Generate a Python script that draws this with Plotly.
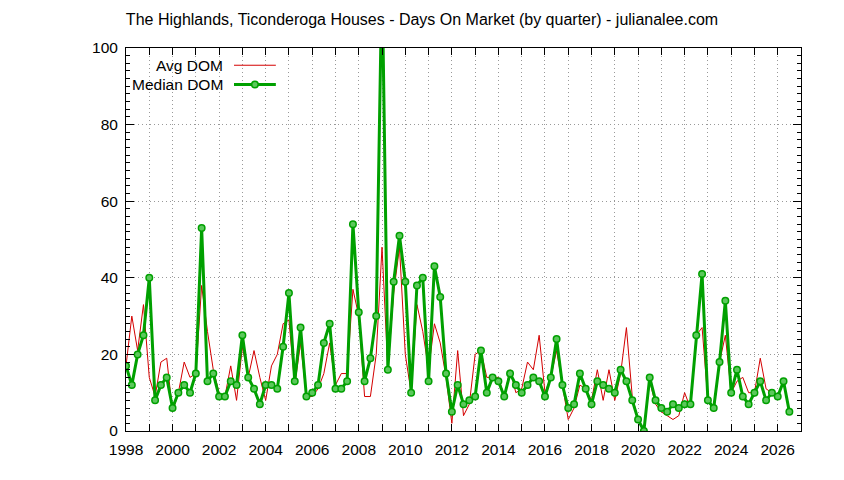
import plotly.graph_objects as go

# quarterly days-on-market, first quarter is 1998 Q1
start_year = 1998
avg_dom = [17, 30, 21, 33, 14, 9, 18, 19, 5, 10, 18, 14, 15, 38, 26, 16,
           10, 9, 17, 8, 22, 14, 21, 14, 8, 17, 20, 28, 29, 12, 23, 9,
           9, 11, 15, 23, 12, 15, 15, 37, 30, 9, 9, 20, 48, 16, 36, 48,
           20, 10, 33, 26, 16, 28, 23, 14, 2, 21, 4, 7, 20, 21, 14, 14,
           14, 9, 16, 10, 11, 18, 16, 25, 10, 14, 21, 12, 3, 6, 12, 11,
           8, 16, 8, 16, 8, 15, 27, 9, 3, 0, 13, 7, 5, 4, 3, 4,
           10, 6, 25, 27, 8, 5, 18, 25, 10, 13, 14, 10, 10, 19, 11, 10,
           9, 13, 5]
median_dom = [17, 12, 20, 25, 40, 8, 12, 14, 6, 10, 12, 10, 15, 53, 13, 15,
              9, 9, 13, 12, 25, 14, 11, 7, 12, 12, 11, 22, 36, 13, 27, 9,
              10, 12, 23, 28, 11, 11, 13, 54, 31, 13, 19, 30, 120, 16, 39, 51,
              39, 10, 38, 40, 13, 43, 35, 15, 5, 12, 7, 8, 9, 21, 10, 14,
              13, 9, 15, 12, 10, 12, 14, 13, 9, 14, 24, 12, 6, 7, 15, 11,
              7, 13, 12, 11, 10, 16, 13, 8, 3, 0, 14, 8, 6, 5, 7, 6,
              7, 7, 25, 41, 8, 6, 18, 34, 10, 16, 9, 7, 10, 13, 8, 10,
              9, 13, 5]
quarters = [start_year + k / 4 for k in range(len(median_dom))]

year_ticks = list(range(1998, 2028))
year_labels = [str(y) if y % 2 == 0 else "" for y in year_ticks]

RED = "#d40000"
GREEN = "#00a000"
FONT = "Liberation Sans"
GRID_DASH = "1px,3px"

fig = go.Figure()
fig.add_trace(go.Scatter(x=quarters, y=avg_dom, mode="lines", name="Avg DOM",
                         line=dict(color=RED, width=1)))
fig.add_trace(go.Scatter(x=quarters, y=median_dom, mode="lines+markers", name="Median DOM",
                         line=dict(color=GREEN, width=3),
                         marker=dict(symbol="circle", size=6.5, color="#5cc85c",
                                     line=dict(color=GREEN, width=1.5))))

# gnuplot style key: text on the left, sample on the right
key_x_text = 0.146
key_x0, key_x1 = 0.160, 0.222
key_rows = [("Avg DOM", 0.955), ("Median DOM", 0.905)]
for label, ky in key_rows:
    fig.add_annotation(x=key_x_text, y=ky, xref="paper", yref="paper", text=label,
                       showarrow=False, xanchor="right", yanchor="middle",
                       font=dict(family=FONT, size=15.5, color="black"))
fig.add_shape(type="line", xref="paper", yref="paper", x0=key_x0, x1=key_x1,
              y0=0.955, y1=0.955, line=dict(color=RED, width=1))
fig.add_shape(type="line", xref="paper", yref="paper", x0=key_x0, x1=key_x1,
              y0=0.905, y1=0.905, line=dict(color=GREEN, width=3))
mx = (key_x0 + key_x1) / 2
fig.add_shape(type="circle", xref="paper", yref="paper",
              x0=mx - 0.0048, x1=mx + 0.0048, y0=0.905 - 0.0085, y1=0.905 + 0.0085,
              fillcolor="#5cc85c", line=dict(color=GREEN, width=1.5))

# page body adds an 8px offset, margins are shifted to compensate
fig.update_layout(
    width=844, height=480,
    margin=dict(l=118, r=51, t=40, b=57),
    paper_bgcolor="white", plot_bgcolor="white",
    showlegend=False,
    font=dict(family=FONT, size=15.5, color="black"),
    title=dict(text="The Highlands, Ticonderoga Houses - Days On Market (by quarter) - julianalee.com",
               x=(422 - 8) / 844, xref="container", xanchor="center",
               y=1 - 11 / 480, yref="container", yanchor="middle",
               font=dict(family=FONT, size=16, color="black")),
    xaxis=dict(range=[1998, 2027], tickvals=year_ticks, ticktext=year_labels,
               ticks="inside", ticklen=7, tickcolor="black", mirror="ticks",
               showline=True, linecolor="black", linewidth=1,
               showgrid=True, gridcolor="#999999", griddash=GRID_DASH, gridwidth=1,
               zeroline=False, ticklabelstandoff=4),
    yaxis=dict(range=[0, 100], dtick=20, ticks="inside", ticklen=8, tickcolor="black",
               mirror="ticks", showline=True, linecolor="black", linewidth=1,
               showgrid=True, gridcolor="#999999", griddash=GRID_DASH, gridwidth=1,
               zeroline=False, ticklabelstandoff=4,
               minor=dict(dtick=2, ticks="inside", ticklen=4, tickcolor="black",
                          showgrid=False)),
)

fig.write_html("out.html")
